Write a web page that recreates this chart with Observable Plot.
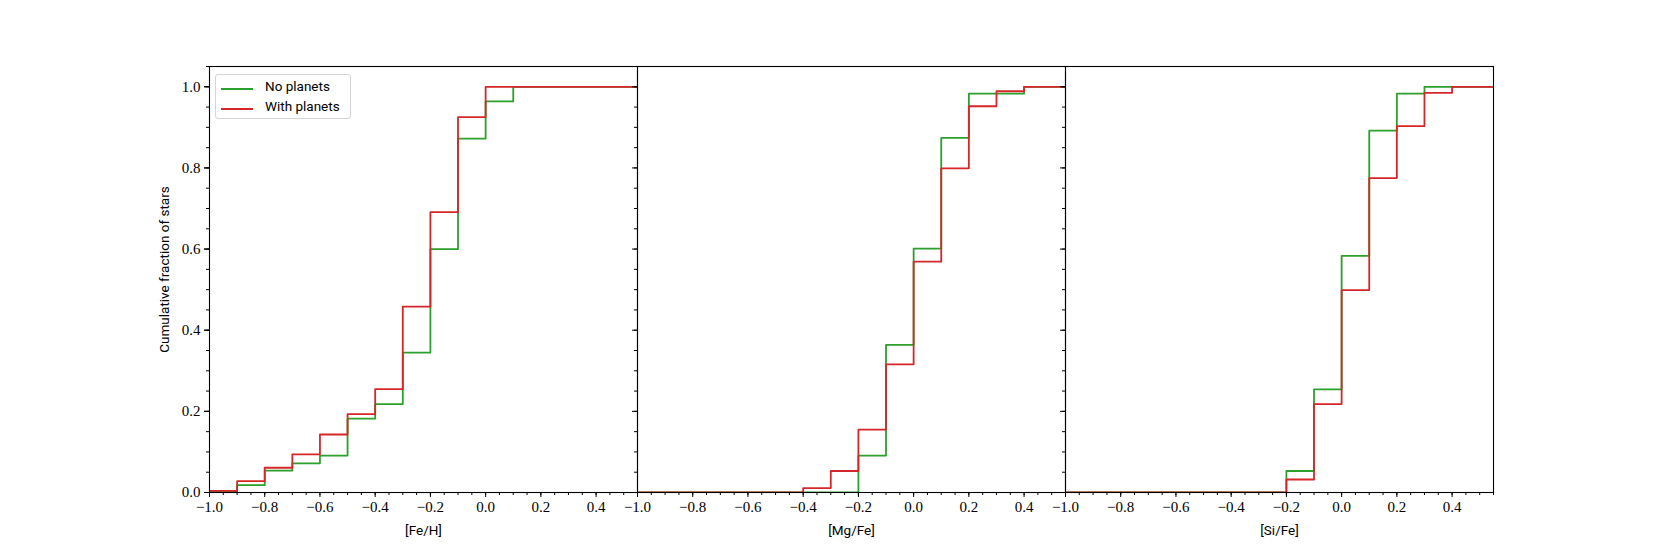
<!DOCTYPE html>
<html>
<head>
<meta charset="utf-8">
<script src="https://cdn.jsdelivr.net/npm/d3@7"></script>
<script src="https://cdn.jsdelivr.net/npm/@observablehq/plot@0.6"></script>
<style>
  html, body { margin: 0; padding: 0; background: #fff; }
  #wrap { position: relative; width: 1661px; height: 554px; }
  #legend {
    position: absolute; left: 215px; top: 74px; width: 136px; height: 45px;
    border: 1px solid #d4d4d4; border-radius: 3px; background: rgba(255,255,255,0.8);
    font-family: Roboto, "DejaVu Sans", sans-serif; font-size: 13.5px; color: #000;
    box-sizing: border-box;
  }
  .item { position: absolute; left: 0; height: 20px; }
  .swatch { position: absolute; left: 5px; width: 32px; height: 0; border-top: 2px solid; }
  .lbl { position: absolute; left: 49px; white-space: nowrap; line-height: 1; }
</style>
</head>
<body>
<div id="wrap">
  <div id="chart"></div>
  <div id="legend"></div>
</div>
<script>
// ---- data ----
const panels = ["[Fe/H]", "[Mg/Fe]", "[Si/Fe]"];
const seriesNames = ["No planets", "With planets"];
const seriesColors = ["#2ca02c", "#d62728"];
const binStarts = [-1.0, -0.9, -0.8, -0.7, -0.6, -0.5, -0.4, -0.3, -0.2, -0.1, 0.0, 0.1, 0.2, 0.3, 0.4, 0.5];
const binEnd = 0.6;

const feNoPlanets   = [0.003, 0.018, 0.054, 0.072, 0.091, 0.182, 0.218, 0.345, 0.600, 0.872, 0.964, 1.0, 1.0, 1.0, 1.0, 1.0];
const feWithPlanets = [0.004, 0.028, 0.061, 0.094, 0.143, 0.193, 0.255, 0.458, 0.691, 0.925, 1.0, 1.0, 1.0, 1.0, 1.0, 1.0];
const mgNoPlanets   = [0, 0, 0, 0, 0, 0, 0, 0, 0.091, 0.364, 0.601, 0.874, 0.983, 0.983, 1.0, 1.0];
const mgWithPlanets = [0, 0, 0, 0, 0, 0, 0.011, 0.053, 0.155, 0.316, 0.569, 0.799, 0.952, 0.989, 1.0, 1.0];
const siNoPlanets   = [0, 0, 0, 0, 0, 0, 0, 0, 0.053, 0.254, 0.583, 0.892, 0.983, 1.0, 1.0, 1.0];
const siWithPlanets = [0, 0, 0, 0, 0, 0, 0, 0, 0.032, 0.218, 0.499, 0.775, 0.903, 0.985, 1.0, 1.0];

const xMajorTicks = [-1.0, -0.8, -0.6, -0.4, -0.2, 0.0, 0.2, 0.4];
const yMajorTicks = [0.0, 0.2, 0.4, 0.6, 0.8, 1.0];
const xMinorTicks = d3.range(-20, 12).map(i => +(i * 0.05).toFixed(2));
const yMinorTicks = d3.range(0, 22).map(i => +(i * 0.05).toFixed(2));
const yLabel = "Cumulative fraction of stars";

// ---- build table ----
const seriesByPanel = {
  "[Fe/H]": [feNoPlanets, feWithPlanets],
  "[Mg/Fe]": [mgNoPlanets, mgWithPlanets],
  "[Si/Fe]": [siNoPlanets, siWithPlanets]
};
const rows = [];
for (const p of panels) {
  seriesByPanel[p].forEach((vals, s) => {
    rows.push({panel: p, series: seriesNames[s], x: binStarts[0], y: 0});
    vals.forEach((v, i) => rows.push({panel: p, series: seriesNames[s], x: binStarts[i], y: v}));
    rows.push({panel: p, series: seriesNames[s], x: binEnd, y: vals[vals.length - 1]});
  });
}

const fmt = d => (d < -1e-9 ? "\u2212" : "") + Math.abs(d).toFixed(1);
const serif = "'Liberation Serif', 'DejaVu Serif', serif";
const sans = "Roboto, 'DejaVu Sans', sans-serif";

const chart = Plot.plot({
  width: 1661,
  height: 554,
  marginLeft: 208,
  marginRight: 167,
  marginTop: 66,
  marginBottom: 62,
  style: {fontFamily: serif, fontSize: "15px", color: "#000", background: "#fff"},
  fx: {domain: panels, padding: 0, axis: null, label: null},
  x: {domain: [-1.0, 0.55], label: null},
  y: {domain: [0, 1.05], label: null},
  marks: [
    Plot.line(rows.filter(d => d.series === seriesNames[0]), {
      fx: "panel", x: "x", y: "y", curve: "step-after",
      stroke: seriesColors[0], strokeWidth: 1.8, clip: true
    }),
    Plot.line(rows.filter(d => d.series === seriesNames[1]), {
      fx: "panel", x: "x", y: "y", curve: "step-after",
      stroke: seriesColors[1], strokeWidth: 1.8, clip: true
    }),
    Plot.frame({stroke: "#000", strokeWidth: 1.1}),
    Plot.axisX({ticks: xMinorTicks, tickSize: 3, tickFormat: () => "", label: null, stroke: "#000"}),
    Plot.axisX({ticks: xMajorTicks, tickSize: 5, tickPadding: 4, tickFormat: fmt, label: null,
      fontFamily: serif, fontSize: 15, stroke: "#000", fill: "#000"}),
    Plot.axisY({ticks: yMinorTicks, tickSize: 3, tickFormat: () => "", label: null, facetAnchor: null, stroke: "#000"}),
    Plot.axisY({ticks: yMajorTicks, tickSize: 5, tickFormat: () => "", label: null, facetAnchor: null, stroke: "#000"}),
    Plot.axisY({ticks: yMajorTicks, tickSize: 5, tickPadding: 4, tickFormat: fmt, label: null,
      fontFamily: serif, fontSize: 15, stroke: "#000", fill: "#000"}),
    Plot.text(panels, {fx: d => d, text: d => d, frameAnchor: "bottom", dy: 38,
      lineAnchor: "middle", fontFamily: sans, fontSize: 13.5, fill: "#000"}),
    Plot.text([{panel: panels[0], t: yLabel}], {fx: "panel", text: "t", frameAnchor: "left",
      rotate: -90, dx: -45, dy: -10, textAnchor: "middle", lineAnchor: "middle",
      fontFamily: sans, fontSize: 13.5, fill: "#000"})
  ]
});
document.getElementById("chart").appendChild(chart);

// ---- legend ----
const legend = document.getElementById("legend");
seriesNames.forEach((name, i) => {
  const item = document.createElement("div");
  item.className = "item";
  item.style.top = (12.7 + i * 20) + "px";
  const sw = document.createElement("div");
  sw.className = "swatch";
  sw.style.borderTopColor = seriesColors[i];
  const lb = document.createElement("div");
  lb.className = "lbl";
  lb.style.top = "-8px";
  lb.textContent = name;
  item.appendChild(sw);
  item.appendChild(lb);
  legend.appendChild(item);
});
</script>
</body>
</html>
